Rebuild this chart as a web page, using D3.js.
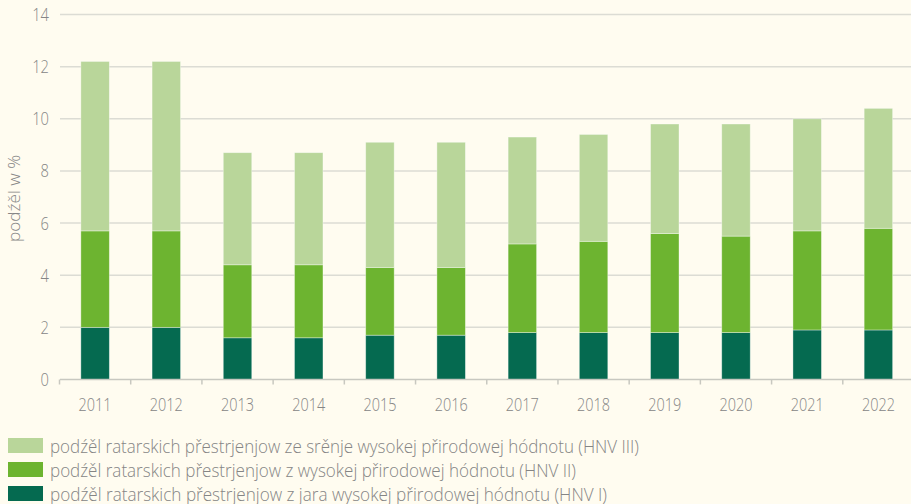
<!DOCTYPE html>
<html><head><meta charset="utf-8">
<script src="https://cdn.jsdelivr.net/npm/d3@7/dist/d3.min.js"></script>
<style>
html,body{margin:0;padding:0;background:#fffcf0;}
svg{display:block;}
text{font-family:"Open Sans","Noto Sans",sans-serif;font-weight:300;fill:#858585;}
</style></head>
<body><svg id="c" width="911" height="504"></svg>
<script>
const years = ["2011","2012","2013","2014","2015","2016","2017","2018","2019","2020","2021","2022"];
const hnv1 = [2.0,2.0,1.6,1.6,1.7,1.7,1.8,1.8,1.8,1.8,1.9,1.9];
const hnv2 = [3.7,3.7,2.8,2.8,2.6,2.6,3.4,3.5,3.8,3.7,3.8,3.9];
const hnv3 = [6.5,6.5,4.3,4.3,4.8,4.8,4.1,4.1,4.2,4.3,4.3,4.6];
const yTicks = [0,2,4,6,8,10,12,14];
const seriesNames = [
  "podźěl ratarskich přestrjenjow ze srěnje wysokej přirodowej hódnotu (HNV III)",
  "podźěl ratarskich přestrjenjow z wysokej přirodowej hódnotu (HNV II)",
  "podźěl ratarskich přestrjenjow z jara wysokej přirodowej hódnotu (HNV I)"
];
const colors = {hnv1:"#056a50", hnv2:"#6db430", hnv3:"#b9d69a"};
const yLabel = "podźěl w %";

const svg = d3.select("#c");
const x = d3.scaleBand().domain(years).range([59.5, 914]).paddingInner(0.6).paddingOuter(0.3);
const y = d3.scaleLinear().domain([0,14]).range([379.5, 14.5]);

// fit the light font to the reference's condensed proportions
function fitTo(sel, widthFn){
  sel.attr("textLength", widthFn).attr("lengthAdjust","spacingAndGlyphs");
}

// gridlines
svg.append("g").selectAll("line").data(yTicks.filter(d=>d>0)).join("line")
  .attr("x1",60).attr("x2",911).attr("y1",d=>y(d)).attr("y2",d=>y(d))
  .attr("stroke","#dcdcd4").attr("stroke-width",1.5);

// y tick labels
svg.append("g").selectAll("text").data(yTicks).join("text")
  .attr("x",49).attr("y",d=>y(d)).attr("dy","0.36em")
  .attr("text-anchor","end").attr("font-size",18).text(d=>d)
  .call(fitTo, d=>String(d).length*8.4);

// y axis label
svg.append("text").attr("transform","translate(20,198.5) rotate(-90)")
  .attr("text-anchor","middle").attr("font-size",16.5).text(yLabel)
  .call(fitTo, 87);

// stacked bars
const rows = years.map((yr,i)=>({year:yr, hnv1:hnv1[i], hnv2:hnv2[i], hnv3:hnv3[i]}));
const stack = d3.stack().keys(["hnv1","hnv2","hnv3"])(rows);
svg.append("g").selectAll("g").data(stack).join("g")
  .attr("fill",d=>colors[d.key])
  .selectAll("rect").data(d=>d).join("rect")
  .attr("x",d=>x(d.data.year)).attr("width",x.bandwidth())
  .attr("y",d=>y(d[1])).attr("height",d=>y(d[0])-y(d[1]))
  .attr("stroke","rgba(255,255,255,0.45)").attr("stroke-width",0.8);

// baseline + ticks
svg.append("line").attr("x1",60).attr("x2",911).attr("y1",y(0)).attr("y2",y(0))
  .attr("stroke","#c8c8c0").attr("stroke-width",1.5);
const bounds = years.map(d=>x(d)+x.bandwidth()/2 - x.step()/2);
svg.append("g").selectAll("line").data(bounds).join("line")
  .attr("x1",d=>d).attr("x2",d=>d).attr("y1",y(0)).attr("y2",y(0)+5)
  .attr("stroke","#c8c8c0").attr("stroke-width",1.5);

// x labels
svg.append("g").selectAll("text").data(years).join("text")
  .attr("x",d=>x(d)+x.bandwidth()/2).attr("y",411)
  .attr("text-anchor","middle").attr("font-size",18.5).text(d=>d)
  .call(fitTo, 33);

// legend
const legKeys = ["hnv3","hnv2","hnv1"];
const legWidths = [589, 526, 557];
const lg = svg.append("g").selectAll("g").data(legKeys).join("g")
  .attr("transform",(d,i)=>`translate(8,${438+i*24})`);
lg.append("rect").attr("width",35).attr("height",15).attr("fill",d=>colors[d]);
lg.append("text").attr("x",42).attr("y",14.5).attr("font-size",17.5)
  .text((d,i)=>seriesNames[i])
  .call(fitTo, (d,i)=>legWidths[i]);
</script></body></html>
